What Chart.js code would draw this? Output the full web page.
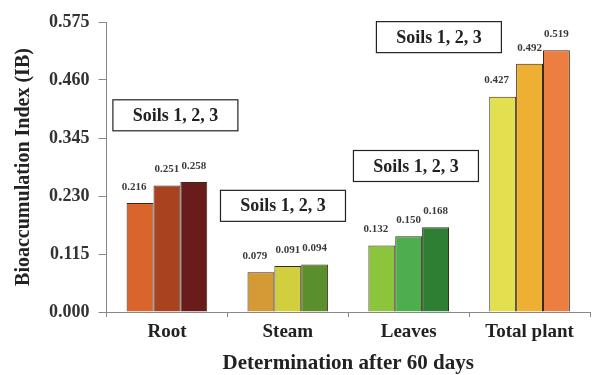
<!DOCTYPE html>
<html><head><meta charset="utf-8">
<script src="https://cdn.jsdelivr.net/npm/chart.js@4"></script>
<style>html,body{margin:0;padding:0;background:#fff}#w{width:594px;height:375px}</style>
</head><body><div id="w"><canvas id="c" width="594" height="375"></canvas></div>
<script>
const categories = ["Root", "Steam", "Leaves", "Total plant"];
const soil1 = [0.216, 0.079, 0.132, 0.427];
const soil2 = [0.251, 0.091, 0.150, 0.492];
const soil3 = [0.258, 0.094, 0.168, 0.519];
const yTicks = [0, 0.115, 0.230, 0.345, 0.460, 0.575];
const colors1 = ["#d9652c", "#d49a35", "#8cc43c", "#e2e04e"];
const colors2 = ["#a9421f", "#d2cf3e", "#4cae4c", "#eeb032"];
const colors3 = ["#6a1b1b", "#5b8f2e", "#2e7f34", "#ec7e42"];
const boxText = "Soils 1, 2, 3";
const boxCat = [0, 1, 2, 3];
const boxShift = [0.07, -0.04, 0.06, -0.75];
const boxValue = [0.390, 0.2105, 0.2895, 0.545];

const serif = "'Liberation Serif', 'DejaVu Serif', serif";

const overlay = {
  id: 'overlay',
  afterDatasetsDraw(chart) {
    const ctx = chart.ctx;
    const xs = chart.scales.x, ys = chart.scales.y;
    ctx.save();
    ctx.font = "bold 11px " + serif;
    ctx.fillStyle = "#3a3a3a";
    ctx.textAlign = "center";
    ctx.textBaseline = "middle";
    chart.data.datasets.forEach((ds, di) => {
      const meta = chart.getDatasetMeta(di);
      meta.data.forEach((el, i) => {
        const dx = di === 0 ? -6 : 0;
        ctx.fillText(ds.data[i].toFixed(3), el.x + dx, el.y - 16);
      });
    });
    ctx.font = "bold 18px " + serif;
    const catW = xs.width / categories.length;
    boxCat.forEach((c, i) => {
      const cx = xs.getPixelForValue(c) + boxShift[i] * catW;
      const cy = ys.getPixelForValue(boxValue[i]);
      const w = 125, h = 31;
      ctx.fillStyle = "#fff";
      ctx.fillRect(cx - w / 2, cy - h / 2, w, h);
      ctx.strokeStyle = "#222";
      ctx.lineWidth = 1.2;
      ctx.strokeRect(cx - w / 2, cy - h / 2, w, h);
      ctx.fillStyle = "#222";
      ctx.fillText(boxText, cx, cy + 1);
    });
    ctx.restore();
  }
};

new Chart(document.getElementById('c'), {
  type: 'bar',
  data: {
    labels: categories,
    datasets: [
      { label: 'Soil 1', data: soil1, backgroundColor: colors1 },
      { label: 'Soil 2', data: soil2, backgroundColor: colors2 },
      { label: 'Soil 3', data: soil3, backgroundColor: colors3 }
    ]
  },
  options: {
    responsive: false,
    animation: false,
    devicePixelRatio: 1,
    layout: { padding: { top: 22, right: 4, left: 12, bottom: 1 } },
    datasets: { bar: { barPercentage: 1, categoryPercentage: 0.667, borderColor: '#3a2a1a', borderWidth: 1 } },
    plugins: { legend: { display: false }, tooltip: { enabled: false } },
    scales: {
      x: {
        grid: { display: true, drawOnChartArea: false, drawTicks: true, tickLength: 5, color: '#888' },
        border: { color: '#888' },
        ticks: { color: '#222', font: { family: serif, size: 19, weight: 'bold', lineHeight: 1 }, padding: 6 },
        title: { display: true, text: 'Determination after 60 days', color: '#222', font: { family: serif, size: 21, weight: 'bold', lineHeight: 1 }, padding: { top: 5, bottom: 0 } }
      },
      y: {
        min: 0, max: 0.575,
        afterBuildTicks(axis) { axis.ticks = yTicks.map(v => ({ value: v })); },
        grid: { display: true, drawOnChartArea: false, drawTicks: true, tickLength: 8, color: '#888' },
        border: { color: '#888' },
        ticks: { color: '#333', font: { family: serif, size: 18, weight: 'bold' }, padding: 9, callback: v => Number(v).toFixed(3) },
        title: { display: true, text: 'Bioaccumulation Index (IB)', color: '#222', font: { family: serif, size: 20, weight: 'bold' }, padding: { top: 0, bottom: 4 } }
      }
    }
  },
  plugins: [overlay]
});
</script></body></html>
